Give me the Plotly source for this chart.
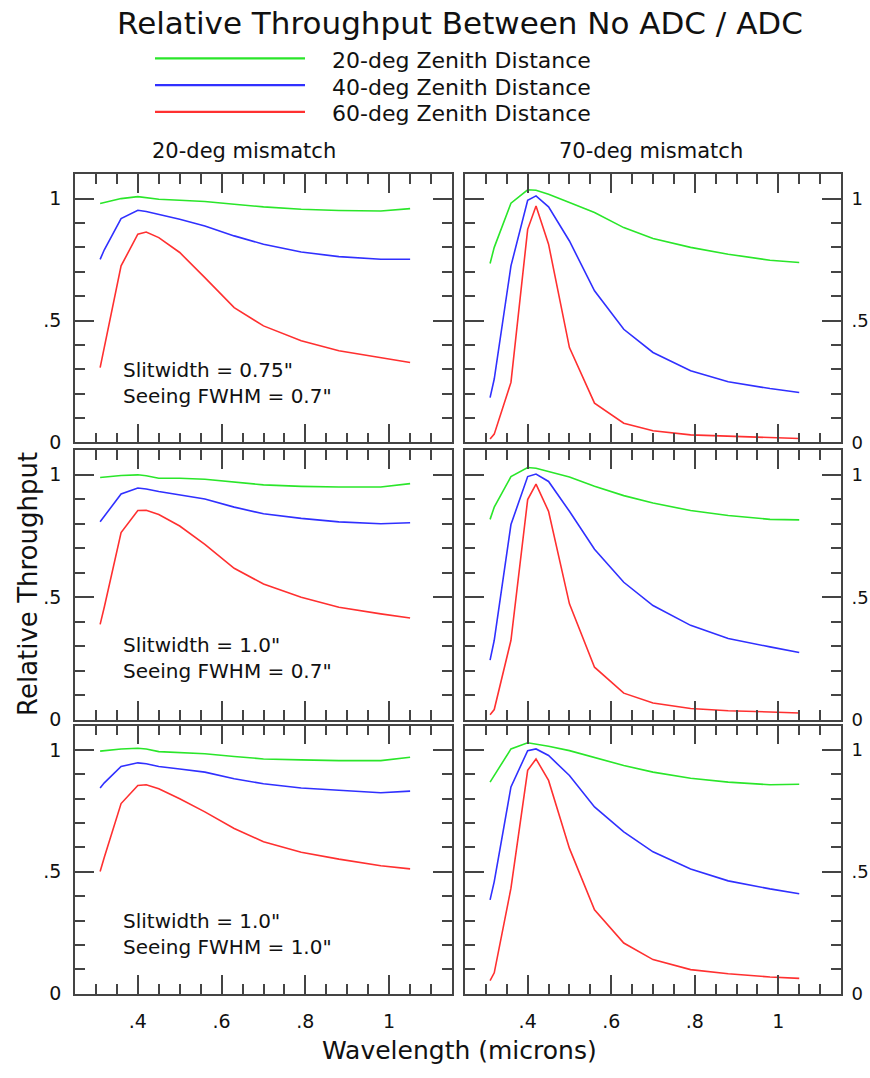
import plotly.graph_objects as go

# ---------------- data ----------------
wavelength = [0.31, 0.32, 0.36, 0.40, 0.42, 0.45, 0.50, 0.56, 0.63, 0.70, 0.79, 0.88, 0.98, 1.05]

series_names = ["20-deg Zenith Distance", "40-deg Zenith Distance", "60-deg Zenith Distance"]
series_colors = ["#2ae62a", "#3030ff", "#ff3030"]

# Slitwidth 0.75", seeing 0.7"
tl_z20 = [0.980, 0.984, 1.000, 1.008, 1.004, 0.997, 0.993, 0.988, 0.977, 0.966, 0.956, 0.951, 0.949, 0.959]
tl_z40 = [0.751, 0.790, 0.918, 0.952, 0.947, 0.936, 0.915, 0.888, 0.847, 0.813, 0.781, 0.762, 0.751, 0.751]
tl_z60 = [0.307, 0.390, 0.724, 0.854, 0.863, 0.840, 0.779, 0.676, 0.553, 0.478, 0.417, 0.376, 0.348, 0.328]
tr_z20 = [0.734, 0.800, 0.981, 1.036, 1.034, 1.018, 0.984, 0.943, 0.881, 0.836, 0.800, 0.772, 0.747, 0.738]
tr_z40 = [0.184, 0.260, 0.724, 0.993, 1.011, 0.966, 0.826, 0.622, 0.464, 0.369, 0.294, 0.249, 0.221, 0.205]
tr_z60 = [0.014, 0.034, 0.246, 0.874, 0.970, 0.813, 0.389, 0.161, 0.079, 0.048, 0.031, 0.025, 0.020, 0.016]

# Slitwidth 1.0", seeing 0.7"
ml_z20 = [0.989, 0.991, 0.997, 1.000, 0.996, 0.986, 0.986, 0.982, 0.969, 0.959, 0.953, 0.950, 0.950, 0.964]
ml_z40 = [0.808, 0.830, 0.922, 0.946, 0.942, 0.932, 0.919, 0.901, 0.868, 0.841, 0.822, 0.808, 0.800, 0.804]
ml_z60 = [0.389, 0.460, 0.764, 0.854, 0.855, 0.838, 0.791, 0.716, 0.618, 0.554, 0.500, 0.459, 0.432, 0.415]
mr_z20 = [0.818, 0.868, 0.993, 1.030, 1.027, 1.014, 0.991, 0.953, 0.915, 0.885, 0.854, 0.834, 0.818, 0.816]
mr_z40 = [0.243, 0.324, 0.797, 0.993, 1.003, 0.973, 0.851, 0.696, 0.561, 0.466, 0.385, 0.331, 0.297, 0.274]
mr_z60 = [0.020, 0.041, 0.324, 0.899, 0.962, 0.851, 0.473, 0.214, 0.108, 0.068, 0.045, 0.036, 0.031, 0.027]

# Slitwidth 1.0", seeing 1.0"
bl_z20 = [0.995, 0.997, 1.004, 1.007, 1.004, 0.993, 0.990, 0.984, 0.973, 0.963, 0.959, 0.956, 0.956, 0.970]
bl_z40 = [0.844, 0.865, 0.932, 0.947, 0.943, 0.932, 0.922, 0.909, 0.882, 0.861, 0.844, 0.834, 0.824, 0.831]
bl_z60 = [0.501, 0.560, 0.780, 0.854, 0.857, 0.841, 0.800, 0.746, 0.678, 0.623, 0.580, 0.552, 0.525, 0.512]
br_z20 = [0.868, 0.895, 1.004, 1.029, 1.024, 1.015, 0.997, 0.970, 0.936, 0.909, 0.884, 0.868, 0.857, 0.859]
br_z40 = [0.385, 0.460, 0.848, 0.997, 1.004, 0.977, 0.895, 0.766, 0.664, 0.582, 0.512, 0.463, 0.430, 0.410]
br_z60 = [0.054, 0.086, 0.433, 0.916, 0.963, 0.875, 0.596, 0.344, 0.208, 0.140, 0.099, 0.082, 0.069, 0.063]

column_titles = ["20-deg mismatch", "70-deg mismatch"]
row_notes = [
    ("Slitwidth = 0.75\"", "Seeing FWHM = 0.7\""),
    ("Slitwidth = 1.0\"", "Seeing FWHM = 0.7\""),
    ("Slitwidth = 1.0\"", "Seeing FWHM = 1.0\""),
]
x_tickvals = [0.4, 0.6, 0.8, 1.0]
x_ticktext = [".4", ".6", ".8", "1"]
y_tickvals = [0, 0.5, 1.0]
y_ticktext = ["0", ".5", "1"]

panels = [
    [(tl_z20, tl_z40, tl_z60), (tr_z20, tr_z40, tr_z60)],
    [(ml_z20, ml_z40, ml_z60), (mr_z20, mr_z40, mr_z60)],
    [(bl_z20, bl_z40, bl_z60), (br_z20, br_z40, br_z60)],
]

# ---------------- layout helpers ----------------
W, H = 870, 1078
FONT = "DejaVu Sans"
AX = "#444444"


def fx(p):
    return p / W


def fy(p):
    return 1 - p / H


col_px = [(75, 452), (465, 841)]
row_px = [(176, 447), (455, 727), (733, 1004)]

fig = go.Figure()
layout_axes = {}
annotations = []

idx = 0
for r in range(3):
    for c in range(2):
        idx += 1
        sfx = "" if idx == 1 else str(idx)
        for k, vals in enumerate(panels[r][c]):
            fig.add_trace(go.Scatter(
                x=wavelength, y=vals, mode="lines",
                line=dict(color=series_colors[k], width=1.6),
                xaxis="x" + sfx, yaxis="y" + sfx, showlegend=False,
                name=series_names[k],
            ))
        x0, x1 = col_px[c]
        t, b = row_px[r]
        layout_axes["xaxis" + sfx] = dict(
            domain=[fx(x0), fx(x1)], range=[0.25, 1.15], anchor="y" + sfx,
            showline=True, linecolor=AX, linewidth=1.8, mirror="ticks",
            ticks="inside", ticklen=19, tickwidth=1.5, tickcolor=AX,
            tickmode="array", tickvals=x_tickvals, ticktext=x_ticktext,
            showticklabels=(r == 2), ticklabelstandoff=10,
            tickfont=dict(family=FONT, size=19, color="#111"),
            showgrid=False, zeroline=False,
            minor=dict(ticks="inside", ticklen=10, tickwidth=1.5, tickcolor=AX,
                       dtick=0.05, tick0=0, showgrid=False),
        )
        layout_axes["yaxis" + sfx] = dict(
            domain=[fy(b), fy(t)], range=[0, 1.1], anchor="x" + sfx,
            side="left" if c == 0 else "right",
            showline=True, linecolor=AX, linewidth=1.8, mirror="ticks",
            ticks="inside", ticklen=19, tickwidth=1.5, tickcolor=AX,
            tickmode="array", tickvals=y_tickvals, ticktext=y_ticktext,
            ticklabelstandoff=8 if c == 0 else 5,
            tickfont=dict(family=FONT, size=19 if c == 0 else 18, color="#111"),
            showgrid=False, zeroline=False,
            minor=dict(ticks="inside", ticklen=10, tickwidth=1.5, tickcolor=AX,
                       dtick=0.1, tick0=0, showgrid=False),
        )
    # notes in left column
    note_y = [(374, 400), (652, 678), (930, 957)][r]
    for line_text, py in zip(row_notes[r], note_y):
        annotations.append(dict(
            text=line_text, x=fx(121), y=fy(py), xref="paper", yref="paper",
            xanchor="left", yanchor="middle", showarrow=False,
            font=dict(family=FONT, size=20, color="#111"),
        ))

# column titles
for c, ttl in enumerate(column_titles):
    annotations.append(dict(
        text=ttl, x=fx([244, 651][c]), y=fy(153), xref="paper", yref="paper",
        xanchor="center", yanchor="middle", showarrow=False,
        font=dict(family=FONT, size=21, color="#111"),
    ))

# axis titles
annotations.append(dict(
    text="Wavelength (microns)", x=fx(459), y=fy(1061), xref="paper", yref="paper",
    xanchor="center", yanchor="middle", showarrow=False,
    font=dict(family=FONT, size=25, color="#111"),
))
annotations.append(dict(
    text="Relative Throughput", x=fx(28), y=fy(590), xref="paper", yref="paper",
    xanchor="center", yanchor="middle", showarrow=False, textangle=-90,
    font=dict(family=FONT, size=26, color="#111"),
))

# main title
annotations.append(dict(
    text="Relative Throughput Between No ADC / ADC", x=fx(460), y=fy(23),
    xref="paper", yref="paper", xanchor="center", yanchor="middle", showarrow=False,
    font=dict(family=FONT, size=31, color="#111"),
))

# legend (manual)
shapes = []
legend_py = [59, 86, 113]
for k, name in enumerate(series_names):
    shapes.append(dict(
        type="line", xref="paper", yref="paper",
        x0=fx(155), x1=fx(305), y0=fy(legend_py[k]), y1=fy(legend_py[k]),
        line=dict(color=series_colors[k], width=2.2),
    ))
    annotations.append(dict(
        text=name, x=fx(330), y=fy(legend_py[k] + 2), xref="paper", yref="paper",
        xanchor="left", yanchor="middle", showarrow=False,
        font=dict(family=FONT, size=22, color="#111"),
    ))

fig.update_layout(
    width=W, height=H,
    margin=dict(l=0, r=0, t=0, b=0),
    paper_bgcolor="white", plot_bgcolor="white",
    annotations=annotations, shapes=shapes,
    showlegend=False, hovermode=False,
    **layout_axes,
)

# remove the default page margin so the figure fills the 870x1078 window exactly
page_fix = (
    "document.documentElement.style.margin='0';"
    "document.documentElement.style.overflow='hidden';"
    "document.body.style.margin='0';"
    "document.body.style.overflow='hidden';"
    "var gd=document.getElementById('{plot_id}');"
    "gd.parentElement.style.lineHeight='0';"
    "gd.parentElement.style.fontSize='0';"
)

fig.write_html("out.html", post_script=page_fix, config={"displayModeBar": False})
